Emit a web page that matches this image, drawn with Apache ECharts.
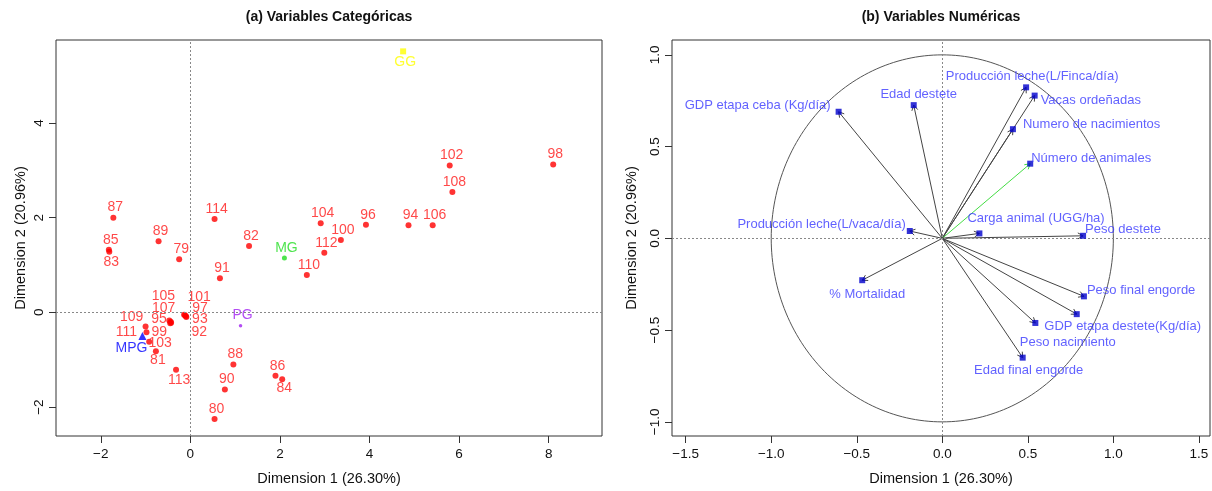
<!DOCTYPE html>
<html><head><meta charset="utf-8">
<script src="https://cdn.jsdelivr.net/npm/echarts@6/dist/echarts.min.js"></script>
<style>html,body{margin:0;padding:0;background:#fff}#c{width:1212px;height:491px}</style>
</head><body><div id="c"></div>
<script>
// ---- Data: individuals (panel a)
const indLabels = ['79','80','81','82','83','84','85','86','87','88','89','90','91','92','93','94','95','96','97','98','99','100','101','102','103','104','105','106','107','108','109','110','111','112','113','114'];
const indDim1 = [-0.25,0.54,-0.77,1.31,-1.81,2.05,-1.82,1.90,-1.72,0.96,-0.71,0.77,0.66,-0.09,-0.10,4.87,-0.43,3.92,-0.12,8.10,-0.45,3.36,-0.14,5.79,-0.92,2.91,-0.47,5.41,-0.44,5.85,-1.00,2.60,-0.98,2.99,-0.32,0.54];
const indDim2 = [1.12,-2.25,-0.82,1.40,1.28,-1.41,1.32,-1.34,2.00,-1.10,1.50,-1.63,0.72,-0.10,-0.08,1.84,-0.22,1.85,-0.06,3.12,-0.23,1.53,-0.05,3.10,-0.62,1.88,-0.17,1.84,-0.20,2.54,-0.30,0.79,-0.42,1.26,-1.21,1.97];
// ---- Data: supplementary categories (panel a)
const supLabels = ['MG','PG','MPG','GG'];
const supDim1 = [2.10,1.12,-1.07,4.75];
const supDim2 = [1.15,-0.28,-0.50,5.51];
// ---- Data: variables (panel b)
const varLabels = ['GDP etapa ceba (Kg/día)','Edad destete','Producción leche(L/Finca/día)','Vacas ordeñadas','Numero de nacimientos','Número de animales','Carga animal (UGG/ha)','Peso destete','Producción leche(L/vaca/día)','% Mortalidad','Peso final engorde','GDP etapa destete(Kg/día)','Peso nacimiento','Edad final engorde'];
const varDim1 = [-0.606,-0.167,0.49,0.54,0.413,0.514,0.217,0.823,-0.19,-0.468,0.828,0.544,0.786,0.47];
const varDim2 = [0.69,0.726,0.823,0.778,0.595,0.407,0.027,0.014,0.04,-0.228,-0.316,-0.461,-0.413,-0.65];
// ---- Tick labels
const ticksAX = [-2,0,2,4,6,8];
const ticksAY = [-2,0,2,4];
const ticksBX = [-1.5,-1,-0.5,0,0.5,1,1.5];
const ticksBY = [-1,-0.5,0,0.5,1];

// ---- Layout / style (not data)
const FONT = '"Liberation Sans", Arial, sans-serif';
const indNudge = {'83':[2,10],'84':[2,9],'81':[2,9],'113':[3,10],'109':[-14,-9],'111':[-20,0],'95':[-12,-4],'99':[-11,9],'105':[-6,-24],'107':[-7,-14],'103':[11,1],'101':[15,-18],'97':[15,-7],'93':[14,3],'92':[13,15]};
const supStyle = [
  {color:'#22dd22', symbol:'circle', size:5, nudge:[2,-10]},
  {color:'#a020f0', symbol:'circle', size:3.5, nudge:[2,-10]},
  {color:'#0000ff', symbol:'triangle', size:8, nudge:[-11,12]},
  {color:'#ffff00', symbol:'rect', size:6, nudge:[2,11]}
];
const varPlace = [['right',-8,-6],['center',5,-11],['center',6,-11],['left',6,5],['left',10,-5],['left',1,-5],['left',-12,-15],['left',2,-6],['right',-4,-7],['center',5,14],['left',3,-6],['left',9,3],['left',-57,28],['center',6,13]];
const varLineColor = varLabels.map(l => l === 'Número de animales' ? '#44dd44' : '#444');

const fmtMinus = v => String(v).replace('-', '\u2212');
const fmt1 = v => v.toFixed(1).replace('-', '\u2212');

function axisCommon(ticks, fmt, isY, margin){
  return {
    axisLine:{show:false, onZero:false},
    splitLine:{show:false},
    axisTick:{show:true, inside:false, length:7, customValues:ticks, lineStyle:{color:'#333'}},
    axisLabel:{show:true, customValues:ticks, formatter:fmt, color:'#111', fontSize:13.5, fontFamily:FONT, margin:margin, rotate: isY ? 90 : 0},
    nameTextStyle:{color:'#111', fontSize:14.5, fontFamily:FONT}
  };
}

const chart = echarts.init(document.getElementById('c'), null, {renderer:'canvas'});

const indData = indLabels.map((l,i) => {
  const n = indNudge[l] || [2,-10];
  return {name:l, value:[indDim1[i], indDim2[i]], label:{offset:n}};
});
const supData = supLabels.map((l,i) => ({
  name:l, value:[supDim1[i], supDim2[i]], symbol:supStyle[i].symbol, symbolSize:supStyle[i].size,
  itemStyle:{color:supStyle[i].color},
  label:{offset:supStyle[i].nudge, color:supStyle[i].color}
}));
const varData = varLabels.map((l,i) => ({
  name:l, value:[varDim1[i], varDim2[i]],
  label:{align:varPlace[i][0], offset:[varPlace[i][1], varPlace[i][2]]}
}));

const zeroLines = (xi) => ({
  type:'line', xAxisIndex:xi, yAxisIndex:xi, data:[], z:1, silent:true,
  markLine:{silent:true, symbol:['none','none'], label:{show:false},
    lineStyle:{type:[2,2], color:'#888', width:1},
    data:[{xAxis:0},{yAxis:0}], animation:false}
});

chart.setOption({
  animation:false,
  backgroundColor:'#fff',
  textStyle:{fontFamily:FONT},
  graphic:[
    {type:'text', x:329, y:17, style:{text:'(a) Variables Categóricas', textAlign:'center', textVerticalAlign:'middle', font:'bold 14px '+FONT, fill:'#111'}},
    {type:'text', x:941, y:17, style:{text:'(b) Variables Numéricas', textAlign:'center', textVerticalAlign:'middle', font:'bold 14px '+FONT, fill:'#111'}}
  ],
  grid:[
    {left:56, top:40, width:546, height:399, show:true, borderColor:'#333', borderWidth:1, backgroundColor:'transparent'},
    {left:672, top:40, width:538, height:399, show:true, borderColor:'#333', borderWidth:1, backgroundColor:'transparent'}
  ],
  xAxis:[
    Object.assign({type:'value', gridIndex:0, min:-3.0, max:9.19, name:'Dimension 1 (26.30%)', nameLocation:'middle', nameGap:35}, axisCommon(ticksAX, fmtMinus, false, 11)),
    Object.assign({type:'value', gridIndex:1, min:-1.58, max:1.565, name:'Dimension 1 (26.30%)', nameLocation:'middle', nameGap:35}, axisCommon(ticksBX, fmt1, false, 11))
  ],
  yAxis:[
    Object.assign({type:'value', gridIndex:0, min:-2.61, max:5.75, name:'Dimension 2 (20.96%)', nameLocation:'middle', nameGap:28}, axisCommon(ticksAY, fmtMinus, true, 10)),
    Object.assign({type:'value', gridIndex:1, min:-1.077, max:1.081, name:'Dimension 2 (20.96%)', nameLocation:'middle', nameGap:33}, axisCommon(ticksBY, fmt1, true, 10))
  ],
  series:[
    zeroLines(0),
    zeroLines(1),
    {
      type:'scatter', xAxisIndex:0, yAxisIndex:0, data:indData, symbol:'circle', symbolSize:6, z:3,
      itemStyle:{color:'#ff0000'},
      label:{show:true, position:'inside', formatter:'{b}', color:'#ff1a1a', fontSize:14, fontFamily:FONT, align:'center', verticalAlign:'middle'}
    },
    {
      type:'scatter', xAxisIndex:0, yAxisIndex:0, data:supData, z:4,
      label:{show:true, position:'inside', formatter:'{b}', fontSize:14, fontFamily:FONT, align:'center', verticalAlign:'middle'}
    },
    {
      type:'custom', xAxisIndex:1, yAxisIndex:1, data:[[0,0]], z:2, silent:true,
      renderItem:function(params, api){
        const pts = [];
        for (let k = 0; k <= 240; k++) {
          const a = k / 240 * Math.PI * 2;
          pts.push(api.coord([Math.cos(a), Math.sin(a)]));
        }
        return {type:'polyline', shape:{points:pts}, style:{stroke:'#555', lineWidth:1, fill:null}};
      }
    },
    {
      type:'custom', xAxisIndex:1, yAxisIndex:1, z:3, silent:true,
      data:varLabels.map((l,i) => [varDim1[i], varDim2[i], i]),
      renderItem:function(params, api){
        const o = api.coord([0,0]);
        const e = api.coord([api.value(0), api.value(1)]);
        const col = varLineColor[api.value(2)];
        const ang = Math.atan2(e[1]-o[1], e[0]-o[0]);
        const L = 6, th = Math.PI/6;
        const h1 = [e[0]-L*Math.cos(ang-th), e[1]-L*Math.sin(ang-th)];
        const h2 = [e[0]-L*Math.cos(ang+th), e[1]-L*Math.sin(ang+th)];
        return {type:'group', children:[
          {type:'line', shape:{x1:o[0], y1:o[1], x2:e[0], y2:e[1]}, style:{stroke:col, lineWidth:1}},
          {type:'polyline', shape:{points:[h1, e, h2]}, style:{stroke:col, lineWidth:1, fill:null}}
        ]};
      }
    },
    {
      type:'scatter', xAxisIndex:1, yAxisIndex:1, data:varData, symbol:'rect', symbolSize:6, z:5,
      itemStyle:{color:'#0000cc'},
      label:{show:true, position:'inside', formatter:'{b}', color:'#3a3aff', fontSize:13, fontFamily:FONT, verticalAlign:'middle'}
    }
  ]
});
</script></body></html>
